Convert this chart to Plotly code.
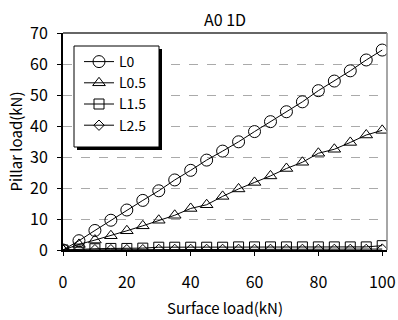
import plotly.graph_objects as go

# Surface load steps (kN)
surface_load = [0, 5, 10, 15, 20, 25, 30, 35, 40, 45, 50,
                55, 60, 65, 70, 75, 80, 85, 90, 95, 100]

# Pillar load (kN) for each series
l0 = [0, 3.0, 6.3, 9.6, 12.9, 16.0, 19.1, 22.6, 25.7, 29.0, 31.9,
      34.9, 38.2, 41.4, 44.6, 47.8, 51.4, 54.5, 57.8, 61.3, 64.5]
l05 = [0, 1.8, 3.2, 4.6, 6.2, 7.8, 9.6, 11.2, 13.4, 14.6, 17.3,
       19.7, 21.8, 23.9, 26.3, 28.3, 31.2, 32.5, 34.7, 37.1, 38.6]
l15 = [0, 0.3, 0.4, 0.5, 0.5, 0.6, 0.9, 0.9, 0.9, 0.9, 0.9,
       1.0, 1.0, 1.0, 1.0, 1.0, 1.0, 1.0, 1.0, 1.0, 1.4]
l25 = [0, 0.1, 0.1, 0.1, 0.1, 0.1, 0.2, 0.2, 0.2, 0.2, 0.2,
       0.2, 0.2, 0.2, 0.2, 0.2, 0.2, 0.2, 0.2, 0.2, 0.3]

series = [
    ("L0", l0, "circle-open", 12),
    ("L0.5", l05, "triangle-up-open", 11),
    ("L1.5", l15, "square-open", 10),
    ("L2.5", l25, "diamond-open", 8),
]

FONT = "Noto Sans CJK KR"
PW, PH = 324, 217  # plot area size in px
L, T = 63, 33      # plot area offset


def px_x(p):
    return (p - L) / PW


def px_y(p):
    return (T + PH - p) / PH


fig = go.Figure()
for name, ys, sym, size in series:
    fig.add_trace(go.Scatter(
        x=surface_load, y=ys, name=name, mode="lines+markers",
        line=dict(color="black", width=1),
        marker=dict(symbol=sym, size=size, color="black",
                    line=dict(color="black", width=1)),
    ))

# Legend frame with drop shadow
fig.add_shape(type="rect", xref="paper", yref="paper", layer="above",
              x0=px_x(77), x1=px_x(162), y0=px_y(150), y1=px_y(49),
              fillcolor="black", line=dict(width=0))
fig.add_shape(type="rect", xref="paper", yref="paper", layer="above",
              x0=px_x(74), x1=px_x(159), y0=px_y(147), y1=px_y(46),
              fillcolor="white", line=dict(color="black", width=1))

# Gray top and right frame
fig.add_shape(type="line", xref="paper", yref="paper", x0=0, x1=1, y0=1, y1=1,
              line=dict(color="#666666", width=2))
fig.add_shape(type="line", xref="paper", yref="paper", x0=1, x1=1, y0=0, y1=1,
              line=dict(color="#888888", width=1.5))

fig.update_layout(
    width=398, height=320,
    margin=dict(l=L, r=11, t=T, b=70),
    paper_bgcolor="white", plot_bgcolor="white",
    font=dict(family=FONT, size=15, color="black"),
    title=dict(text="A0 1D", x=225 / 398, xanchor="center",
               y=1 - 20 / 320, yanchor="middle",
               font=dict(family=FONT, size=16, color="black")),
    showlegend=True,
    legend=dict(x=px_x(79), y=px_y(46),
                xanchor="left", yanchor="top",
                bgcolor="rgba(0,0,0,0)", borderwidth=0,
                font=dict(family=FONT, size=14, color="black"),
                tracegroupgap=0, itemwidth=30),
    xaxis=dict(range=[0, 101.5], dtick=20, tick0=0, automargin=False,
               showline=True, linecolor="black", linewidth=2,
               ticks="outside", ticklen=4, tickcolor="black",
               ticklabelstandoff=13,
               showgrid=False, zeroline=False,
               tickfont=dict(family=FONT, size=16),
               title=dict(text="Surface load(kN)", standoff=11,
                          font=dict(family=FONT, size=15))),
    yaxis=dict(range=[0, 70], dtick=10, tick0=0, automargin=False,
               showline=True, linecolor="black", linewidth=2,
               ticks="outside", ticklen=4, tickcolor="black",
               ticklabelstandoff=6,
               showgrid=True, gridcolor="#aaaaaa", griddash="dash",
               gridwidth=1, zeroline=False,
               tickfont=dict(family=FONT, size=16),
               title=dict(text="Pillar load(kN)", standoff=4,
                          font=dict(family=FONT, size=15))),
)

fig.write_html("out.html")
